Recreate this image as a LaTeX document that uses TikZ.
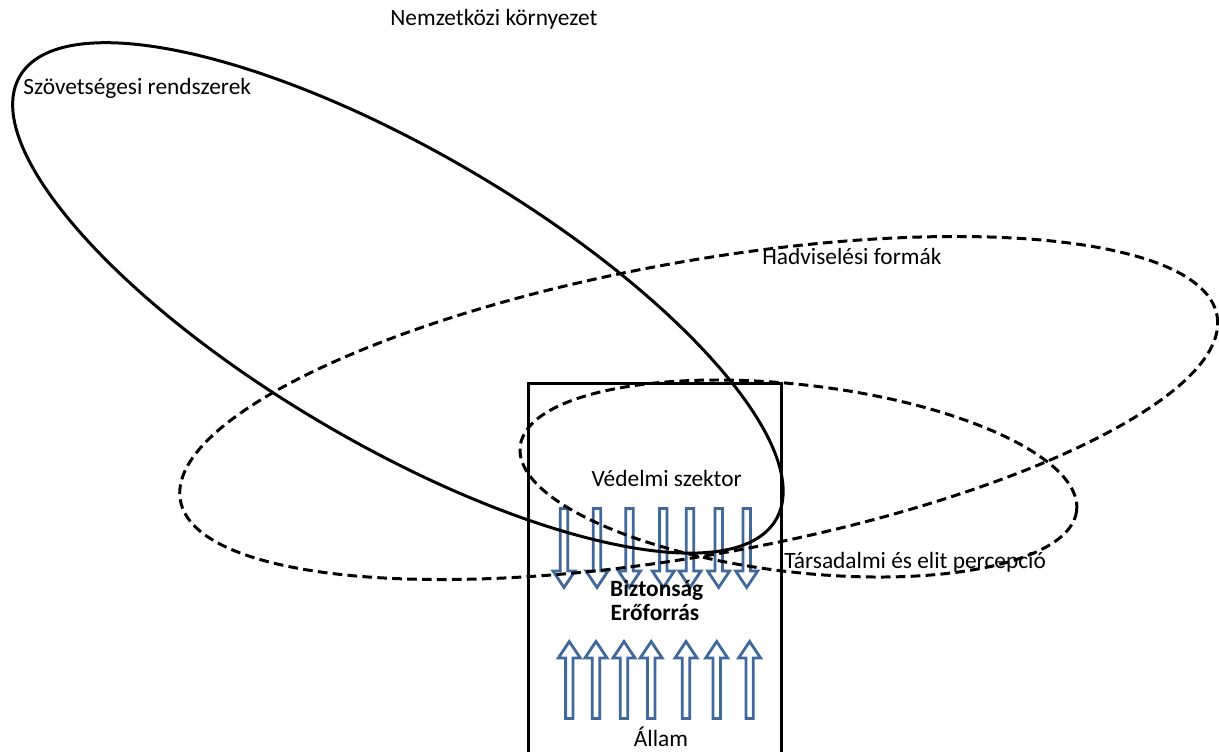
\documentclass[tikz,border=0pt]{standalone}
\usepackage{fontspec}
\setmainfont{Carlito}
\definecolor{arrblue}{RGB}{64,104,154}
\begin{document}
\begin{tikzpicture}[x=0.02cm,y=-0.02cm,
  solidline/.style={line width=1.7pt},
  dashline/.style={line width=1.7pt, dash pattern=on 5.5pt off 3pt},
  lbl/.style={inner sep=0pt, font=\fontsize{13.3}{16}\selectfont},
  blbl/.style={inner sep=0pt, font=\fontsize{13.3}{16}\selectfont\bfseries},
  downarr/.pic={\draw[arrblue, line width=1.6pt, line join=miter]
     (-3.7,0) -- (-3.7,62.5) -- (-11,62.5) -- (0,79) -- (11,62.5) -- (3.7,62.5) -- (3.7,0) -- cycle;},
  uparr/.pic={\draw[arrblue, line width=1.6pt, line join=miter]
     (-3.7,0) -- (-3.7,-60.5) -- (-11,-60.5) -- (0,-77) -- (11,-60.5) -- (3.7,-60.5) -- (3.7,0) -- cycle;}
]
\useasboundingbox (0,0) rectangle (1219,751);

% arrows
\foreach \cx in {564,597,629.5,663.3,690,718.7,746.7}
  \pic at (\cx,508.5) {downarr};
\foreach \cx in {569.3,596,624,651.2,686,716.7,749.6}
  \pic at (\cx,718.5) {uparr};

% state box
\draw[solidline, line join=miter] (528,760) -- (528,383) -- (781,383) -- (781,760);

% ellipses
\draw[solidline, rotate around={-30.4:(397.9,297.9)}] (397.9,297.9) ellipse [x radius=438.3, y radius=146.3];
\draw[dashline, rotate around={10.1:(698.7,408)}] (698.7,408) ellipse [x radius=526.5, y radius=146.8];
\draw[dashline, rotate around={-6.6:(798.4,478.5)}] (798.4,478.5) ellipse [x radius=280.1, y radius=93.7];

% labels
\node[lbl, anchor=base west] (nemz) at (390,25) {Nemzetközi környezet};
\node[lbl, anchor=base west] (szov) at (23,94) {Szövetségesi rendszerek};
\node[lbl, anchor=base west] (hadv) at (762,264) {Hadviselési formák};
\node[lbl, anchor=base west] (tars) at (784,568) {Társadalmi és elit percepció};
\node[lbl, anchor=base] (ved) at (666.7,486.7) {Védelmi szektor};
\node[blbl, anchor=base] (bizt) at (656.7,596) {Biztonság};
\node[blbl, anchor=base] (erof) at (655,620) {Erőforrás};
\node[lbl, anchor=base] (allam) at (661,746) {Állam};
\end{tikzpicture}
\end{document}
